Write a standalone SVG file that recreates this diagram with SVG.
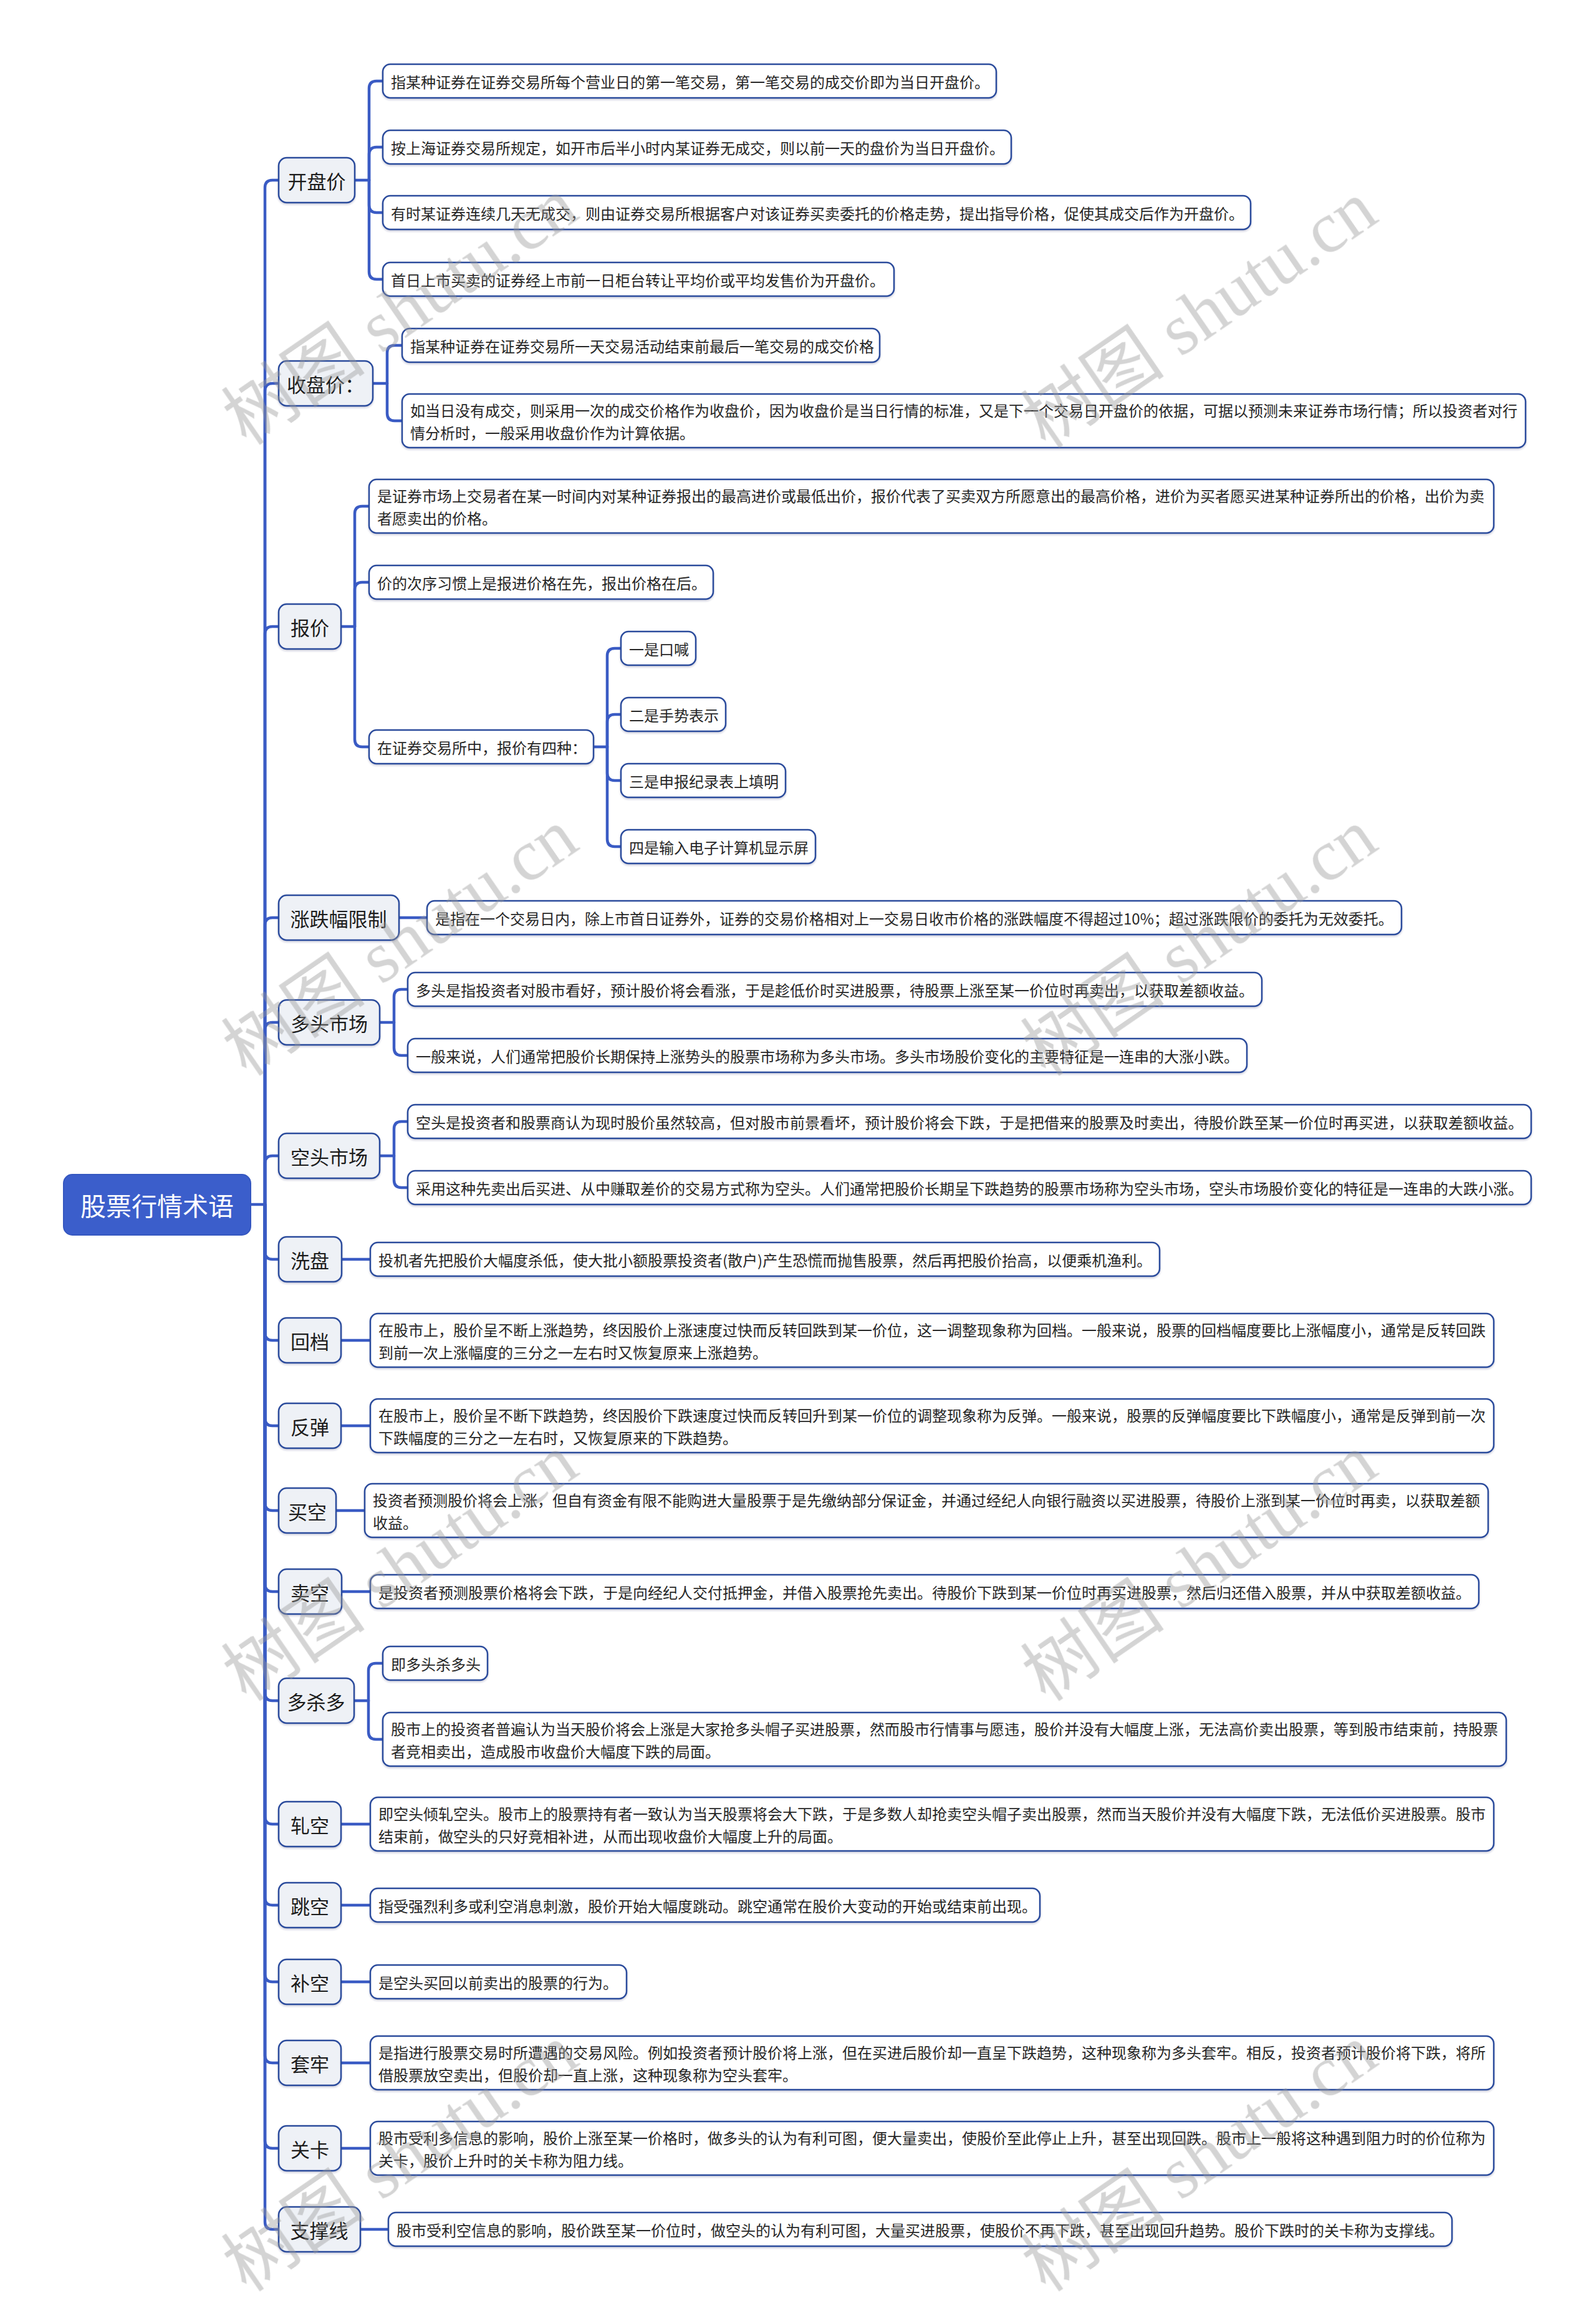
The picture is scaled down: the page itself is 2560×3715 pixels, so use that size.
<svg xmlns="http://www.w3.org/2000/svg" width="2560" height="3715" viewBox="0 0 2560 3715">
<defs>
<style>
.bg{fill:#ffffff}
.conn path{fill:none;stroke:#3a5bc4;stroke-width:4.5;stroke-linecap:round}
.root rect{fill:#3b5ecb;stroke:#3557c0;stroke-width:2}
.root text{fill:#ffffff;font-size:41px}
.l1 rect{fill:#eef1f6;stroke:#2c4b9c;stroke-width:2.5;filter:url(#sh)}
.l1 text{fill:#1c1c1c;font-size:31px;text-anchor:middle}
.lf rect{fill:#ffffff;stroke:#2c4b9c;stroke-width:2.5;filter:url(#sh)}
.lf text{fill:#262626;font-size:24px}
text{font-family:"Noto Sans CJK SC","Noto Sans",sans-serif;dominant-baseline:central}
.wm text{font-family:"Liberation Serif","Noto Sans CJK SC",serif;font-size:116px;fill:#9a9a9a;text-anchor:middle;dominant-baseline:central}
</style>
<filter id="sh" x="-5%" y="-20%" width="110%" height="150%">
<feDropShadow dx="0" dy="2" stdDeviation="1.5" flood-color="#1a2a5a" flood-opacity="0.22"/>
</filter>
</defs>
<rect class="bg" x="0" y="0" width="2560" height="3715"/>

<g id="connectors" class="conn">
<path d="M402 1932 H425"/>
<path d="M425 1932 V301 Q425 289 437 289 H447"/>
<path d="M425 1932 V627 Q425 615 437 615 H447"/>
<path d="M425 1932 V1017 Q425 1005 437 1005 H447"/>
<path d="M425 1932 V1484 Q425 1472 437 1472 H447"/>
<path d="M425 1932 V1652 Q425 1640 437 1640 H447"/>
<path d="M425 1932 V1866 Q425 1854 437 1854 H447"/>
<path d="M425 1932 V2008 Q425 2020 437 2020 H447"/>
<path d="M425 1932 V2138 Q425 2150 437 2150 H447"/>
<path d="M425 1932 V2275 Q425 2287 437 2287 H447"/>
<path d="M425 1932 V2411 Q425 2423 437 2423 H447"/>
<path d="M425 1932 V2541 Q425 2553 437 2553 H447"/>
<path d="M425 1932 V2716 Q425 2728 437 2728 H447"/>
<path d="M425 1932 V2914 Q425 2926 437 2926 H447"/>
<path d="M425 1932 V3044 Q425 3056 437 3056 H447"/>
<path d="M425 1932 V3167 Q425 3179 437 3179 H447"/>
<path d="M425 1932 V3297 Q425 3309 437 3309 H447"/>
<path d="M425 1932 V3434 Q425 3446 437 3446 H447"/>
<path d="M425 1932 V3564 Q425 3576 437 3576 H447"/>
<path d="M569 289 H592"/>
<path d="M592 289 V142 Q592 130 604 130 H614"/>
<path d="M592 289 V248 Q592 236 604 236 H614"/>
<path d="M592 289 V329 Q592 341 604 341 H614"/>
<path d="M592 289 V436 Q592 448 604 448 H614"/>
<path d="M598 615 H621"/>
<path d="M621 615 V566 Q621 554 633 554 H645"/>
<path d="M621 615 V663 Q621 675 633 675 H645"/>
<path d="M547 1005 H569"/>
<path d="M569 1005 V824 Q569 812 581 812 H592"/>
<path d="M569 1005 V946 Q569 934 581 934 H592"/>
<path d="M569 1005 V1186 Q569 1198 581 1198 H592"/>
<path d="M952 1198 H974"/>
<path d="M974 1198 V1052 Q974 1040 986 1040 H996"/>
<path d="M974 1198 V1158 Q974 1146 986 1146 H996"/>
<path d="M974 1198 V1240 Q974 1252 986 1252 H996"/>
<path d="M974 1198 V1346 Q974 1358 986 1358 H996"/>
<path d="M640 1472 H685"/>
<path d="M609 1640 H632"/>
<path d="M632 1640 V1599 Q632 1587 644 1587 H654"/>
<path d="M632 1640 V1681 Q632 1693 644 1693 H654"/>
<path d="M609 1854 H632"/>
<path d="M632 1854 V1811 Q632 1799 644 1799 H654"/>
<path d="M632 1854 V1893 Q632 1905 644 1905 H654"/>
<path d="M548 2020 H594"/>
<path d="M547 2150 H594"/>
<path d="M547 2287 H594"/>
<path d="M539 2423 H585"/>
<path d="M548 2553 H594"/>
<path d="M568 2728 H591"/>
<path d="M591 2728 V2680 Q591 2668 603 2668 H614"/>
<path d="M591 2728 V2778 Q591 2790 603 2790 H614"/>
<path d="M547 2926 H594"/>
<path d="M547 3056 H594"/>
<path d="M547 3179 H594"/>
<path d="M547 3309 H594"/>
<path d="M547 3446 H594"/>
<path d="M578 3576 H623"/>
</g>

<g id="root" class="root"><rect x="102" y="1884" width="300" height="97" rx="14"/><text x="252" y="1932" text-anchor="middle">股票行情术语</text></g>

<g id="n-kaipan" class="l1"><rect x="447" y="253" width="122" height="72" rx="13"/><text x="508" y="289">开盘价</text></g>
<g id="n-kaipan-1" class="lf"><rect x="614" y="103" width="984" height="54" rx="12"/><text x="627" y="130">指某种证券在证券交易所每个营业日的第一笔交易，第一笔交易的成交价即为当日开盘价。</text></g>
<g id="n-kaipan-2" class="lf"><rect x="614" y="209" width="1008" height="54" rx="12"/><text x="627" y="236">按上海证券交易所规定，如开市后半小时内某证券无成交，则以前一天的盘价为当日开盘价。</text></g>
<g id="n-kaipan-3" class="lf"><rect x="614" y="314" width="1392" height="54" rx="12"/><text x="627" y="341">有时某证券连续几天无成交，则由证券交易所根据客户对该证券买卖委托的价格走势，提出指导价格，促使其成交后作为开盘价。</text></g>
<g id="n-kaipan-4" class="lf"><rect x="614" y="421" width="820" height="54" rx="12"/><text x="627" y="448">首日上市买卖的证券经上市前一日柜台转让平均价或平均发售价为开盘价。</text></g>

<g id="n-shoupan" class="l1"><rect x="447" y="579" width="151" height="72" rx="13"/><text x="522" y="615">收盘价：</text></g>
<g id="n-shoupan-1" class="lf"><rect x="645" y="527" width="766" height="54" rx="12"/><text x="658" y="554">指某种证券在证券交易所一天交易活动结束前最后一笔交易的成交价格</text></g>
<g id="n-shoupan-2" class="lf"><rect x="645" y="632" width="1802" height="86" rx="12"/><text x="658" y="657">如当日没有成交，则采用一次的成交价格作为收盘价，因为收盘价是当日行情的标准，又是下一个交易日开盘价的依据，可据以预测未来证券市场行情；所以投资者对行</text><text x="658" y="693">情分析时，一般采用收盘价作为计算依据。</text></g>

<g id="n-baojia" class="l1"><rect x="447" y="969" width="100" height="72" rx="13"/><text x="497" y="1005">报价</text></g>
<g id="n-baojia-1" class="lf"><rect x="592" y="769" width="1804" height="86" rx="12"/><text x="605" y="794">是证券市场上交易者在某一时间内对某种证券报出的最高进价或最低出价，报价代表了买卖双方所愿意出的最高价格，进价为买者愿买进某种证券所出的价格，出价为卖</text><text x="605" y="830">者愿卖出的价格。</text></g>
<g id="n-baojia-2" class="lf"><rect x="592" y="907" width="552" height="54" rx="12"/><text x="605" y="934">价的次序习惯上是报进价格在先，报出价格在后。</text></g>
<g id="n-baojia-3" class="lf"><rect x="592" y="1171" width="360" height="54" rx="12"/><text x="605" y="1198">在证券交易所中，报价有四种：</text></g>
<g id="n-baojia-3-1" class="lf"><rect x="996" y="1013" width="120" height="54" rx="12"/><text x="1009" y="1040">一是口喊</text></g>
<g id="n-baojia-3-2" class="lf"><rect x="996" y="1119" width="168" height="54" rx="12"/><text x="1009" y="1146">二是手势表示</text></g>
<g id="n-baojia-3-3" class="lf"><rect x="996" y="1225" width="264" height="54" rx="12"/><text x="1009" y="1252">三是申报纪录表上填明</text></g>
<g id="n-baojia-3-4" class="lf"><rect x="996" y="1331" width="312" height="54" rx="12"/><text x="1009" y="1358">四是输入电子计算机显示屏</text></g>

<g id="n-zhangdie" class="l1"><rect x="447" y="1436" width="193" height="72" rx="13"/><text x="543" y="1472">涨跌幅限制</text></g>
<g id="n-zhangdie-1" class="lf"><rect x="685" y="1445" width="1563" height="54" rx="12"/><text x="698" y="1472">是指在一个交易日内，除上市首日证券外，证券的交易价格相对上一交易日收市价格的涨跌幅度不得超过10%；超过涨跌限价的委托为无效委托。</text></g>

<g id="n-duotou" class="l1"><rect x="447" y="1604" width="162" height="72" rx="13"/><text x="528" y="1640">多头市场</text></g>
<g id="n-duotou-1" class="lf"><rect x="654" y="1560" width="1370" height="54" rx="12"/><text x="667" y="1587">多头是指投资者对股市看好，预计股价将会看涨，于是趁低价时买进股票，待股票上涨至某一价位时再卖出，以获取差额收益。</text></g>
<g id="n-duotou-2" class="lf"><rect x="654" y="1666" width="1346" height="54" rx="12"/><text x="667" y="1693">一般来说，人们通常把股价长期保持上涨势头的股票市场称为多头市场。多头市场股价变化的主要特征是一连串的大涨小跌。</text></g>

<g id="n-kongtou" class="l1"><rect x="447" y="1818" width="162" height="72" rx="13"/><text x="528" y="1854">空头市场</text></g>
<g id="n-kongtou-1" class="lf"><rect x="654" y="1772" width="1802" height="54" rx="12"/><text x="667" y="1799">空头是投资者和股票商认为现时股价虽然较高，但对股市前景看坏，预计股价将会下跌，于是把借来的股票及时卖出，待股价跌至某一价位时再买进，以获取差额收益。</text></g>
<g id="n-kongtou-2" class="lf"><rect x="654" y="1878" width="1802" height="54" rx="12"/><text x="667" y="1905">采用这种先卖出后买进、从中赚取差价的交易方式称为空头。人们通常把股价长期呈下跌趋势的股票市场称为空头市场，空头市场股价变化的特征是一连串的大跌小涨。</text></g>

<g id="n-xipan" class="l1"><rect x="447" y="1984" width="101" height="72" rx="13"/><text x="497" y="2020">洗盘</text></g>
<g id="n-xipan-1" class="lf"><rect x="594" y="1993" width="1266" height="54" rx="12"/><text x="607" y="2020">投机者先把股价大幅度杀低，使大批小额股票投资者(散户)产生恐慌而抛售股票，然后再把股价抬高，以便乘机渔利。</text></g>

<g id="n-huidang" class="l1"><rect x="447" y="2114" width="100" height="72" rx="13"/><text x="497" y="2150">回档</text></g>
<g id="n-huidang-1" class="lf"><rect x="594" y="2107" width="1802" height="86" rx="12"/><text x="607" y="2132">在股市上，股价呈不断上涨趋势，终因股价上涨速度过快而反转回跌到某一价位，这一调整现象称为回档。一般来说，股票的回档幅度要比上涨幅度小，通常是反转回跌</text><text x="607" y="2168">到前一次上涨幅度的三分之一左右时又恢复原来上涨趋势。</text></g>

<g id="n-fantan" class="l1"><rect x="447" y="2251" width="100" height="72" rx="13"/><text x="497" y="2287">反弹</text></g>
<g id="n-fantan-1" class="lf"><rect x="594" y="2244" width="1802" height="86" rx="12"/><text x="607" y="2269">在股市上，股价呈不断下跌趋势，终因股价下跌速度过快而反转回升到某一价位的调整现象称为反弹。一般来说，股票的反弹幅度要比下跌幅度小，通常是反弹到前一次</text><text x="607" y="2305">下跌幅度的三分之一左右时，又恢复原来的下跌趋势。</text></g>

<g id="n-maikong" class="l1"><rect x="447" y="2387" width="92" height="72" rx="13"/><text x="493" y="2423">买空</text></g>
<g id="n-maikong-1" class="lf"><rect x="585" y="2380" width="1802" height="86" rx="12"/><text x="598" y="2405">投资者预测股价将会上涨，但自有资金有限不能购进大量股票于是先缴纳部分保证金，并通过经纪人向银行融资以买进股票，待股价上涨到某一价位时再卖，以获取差额</text><text x="598" y="2441">收益。</text></g>

<g id="n-maikong2" class="l1"><rect x="447" y="2517" width="101" height="72" rx="13"/><text x="497" y="2553">卖空</text></g>
<g id="n-maikong2-1" class="lf"><rect x="594" y="2526" width="1778" height="54" rx="12"/><text x="607" y="2553">是投资者预测股票价格将会下跌，于是向经纪人交付抵押金，并借入股票抢先卖出。待股价下跌到某一价位时再买进股票，然后归还借入股票，并从中获取差额收益。</text></g>

<g id="n-duosha" class="l1"><rect x="447" y="2692" width="121" height="72" rx="13"/><text x="507" y="2728">多杀多</text></g>
<g id="n-duosha-1" class="lf"><rect x="614" y="2641" width="168" height="54" rx="12"/><text x="627" y="2668">即多头杀多头</text></g>
<g id="n-duosha-2" class="lf"><rect x="614" y="2747" width="1802" height="86" rx="12"/><text x="627" y="2772">股市上的投资者普遍认为当天股价将会上涨是大家抢多头帽子买进股票，然而股市行情事与愿违，股价并没有大幅度上涨，无法高价卖出股票，等到股市结束前，持股票</text><text x="627" y="2808">者竞相卖出，造成股市收盘价大幅度下跌的局面。</text></g>

<g id="n-zhakong" class="l1"><rect x="447" y="2890" width="100" height="72" rx="13"/><text x="497" y="2926">轧空</text></g>
<g id="n-zhakong-1" class="lf"><rect x="594" y="2883" width="1802" height="86" rx="12"/><text x="607" y="2908">即空头倾轧空头。股市上的股票持有者一致认为当天股票将会大下跌，于是多数人却抢卖空头帽子卖出股票，然而当天股价并没有大幅度下跌，无法低价买进股票。股市</text><text x="607" y="2944">结束前，做空头的只好竞相补进，从而出现收盘价大幅度上升的局面。</text></g>

<g id="n-tiaokong" class="l1"><rect x="447" y="3020" width="100" height="72" rx="13"/><text x="497" y="3056">跳空</text></g>
<g id="n-tiaokong-1" class="lf"><rect x="594" y="3029" width="1074" height="54" rx="12"/><text x="607" y="3056">指受强烈利多或利空消息刺激，股价开始大幅度跳动。跳空通常在股价大变动的开始或结束前出现。</text></g>

<g id="n-bukong" class="l1"><rect x="447" y="3143" width="100" height="72" rx="13"/><text x="497" y="3179">补空</text></g>
<g id="n-bukong-1" class="lf"><rect x="594" y="3152" width="411" height="54" rx="12"/><text x="607" y="3179">是空头买回以前卖出的股票的行为。</text></g>

<g id="n-taolao" class="l1"><rect x="447" y="3273" width="100" height="72" rx="13"/><text x="497" y="3309">套牢</text></g>
<g id="n-taolao-1" class="lf"><rect x="594" y="3266" width="1802" height="86" rx="12"/><text x="607" y="3291">是指进行股票交易时所遭遇的交易风险。例如投资者预计股价将上涨，但在买进后股价却一直呈下跌趋势，这种现象称为多头套牢。相反，投资者预计股价将下跌，将所</text><text x="607" y="3327">借股票放空卖出，但股价却一直上涨，这种现象称为空头套牢。</text></g>

<g id="n-guanka" class="l1"><rect x="447" y="3410" width="100" height="72" rx="13"/><text x="497" y="3446">关卡</text></g>
<g id="n-guanka-1" class="lf"><rect x="594" y="3403" width="1802" height="86" rx="12"/><text x="607" y="3428">股市受利多信息的影响，股价上涨至某一价格时，做多头的认为有利可图，便大量卖出，使股价至此停止上升，甚至出现回跌。股市上一般将这种遇到阻力时的价位称为</text><text x="607" y="3464">关卡，股价上升时的关卡称为阻力线。</text></g>

<g id="n-zhicheng" class="l1"><rect x="447" y="3540" width="131" height="72" rx="13"/><text x="512" y="3576">支撑线</text></g>
<g id="n-zhicheng-1" class="lf"><rect x="623" y="3549" width="1706" height="54" rx="12"/><text x="636" y="3576">股市受利空信息的影响，股价跌至某一价位时，做空头的认为有利可图，大量买进股票，使股价不再下跌，甚至出现回升趋势。股价下跌时的关卡称为支撑线。</text></g>

<g id="watermark" class="wm" opacity="0.42">
<text transform="translate(642 500) rotate(-34.5)">树图 shutu.cn</text>
<text transform="translate(1924 505) rotate(-34.5)">树图 shutu.cn</text>
<text transform="translate(642 1512) rotate(-34.5)">树图 shutu.cn</text>
<text transform="translate(1924 1512) rotate(-34.5)">树图 shutu.cn</text>
<text transform="translate(642 2515) rotate(-34.5)">树图 shutu.cn</text>
<text transform="translate(1924 2515) rotate(-34.5)">树图 shutu.cn</text>
<text transform="translate(642 3462) rotate(-34.5)">树图 shutu.cn</text>
<text transform="translate(1924 3462) rotate(-34.5)">树图 shutu.cn</text>
</g>
</svg>
